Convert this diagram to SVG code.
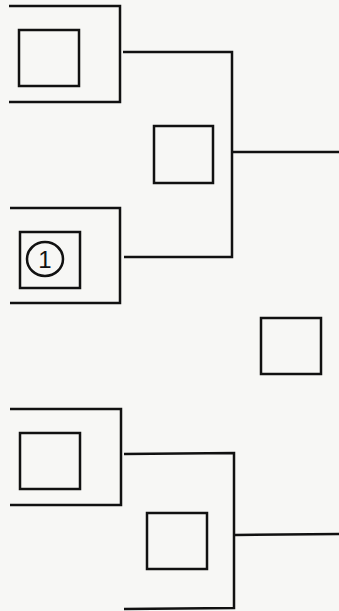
<svg xmlns="http://www.w3.org/2000/svg" width="339" height="611" viewBox="0 0 339 611">
<style>
.l{fill:none;stroke:#111;stroke-width:2.5}
.b{fill:none;stroke:#111;stroke-width:2.5}
.t{font-family:"Liberation Sans",Arial,sans-serif;font-size:24px;fill:#111}
</style>
<rect width="339" height="611" fill="#f7f7f5"/>
<g id="connectors">
<polyline class="l" points="9,6 120,6 120,102 9,102"/>
<polyline class="l" points="10,208 120,208 120,303 10,303"/>
<polyline class="l" points="123,52 232,52 232,257 124,257"/>
<line class="l" x1="233" y1="152" x2="339" y2="152"/>
<polyline class="l" points="10,409 121,409 121,505 10,505"/>
<polyline class="l" points="124,454 234,453 234,608 124,609"/>
<line class="l" x1="235" y1="535" x2="339" y2="534"/>
</g>
<g id="n1"><rect class="b" x="19" y="30" width="60" height="56"/></g>
<g id="n2"><rect class="b" x="20" y="232" width="60" height="56"/>
<ellipse class="b" cx="45" cy="259" rx="18" ry="17"/>
<text class="t" x="45" y="268" text-anchor="middle">1</text></g>
<g id="n3"><rect class="b" x="20" y="433" width="60" height="56"/></g>
<g id="n4"><rect class="b" x="154" y="126" width="59" height="57"/></g>
<g id="n5"><rect class="b" x="147" y="513" width="60" height="56"/></g>
<g id="n6"><rect class="b" x="261" y="318" width="60" height="56"/></g>
</svg>
